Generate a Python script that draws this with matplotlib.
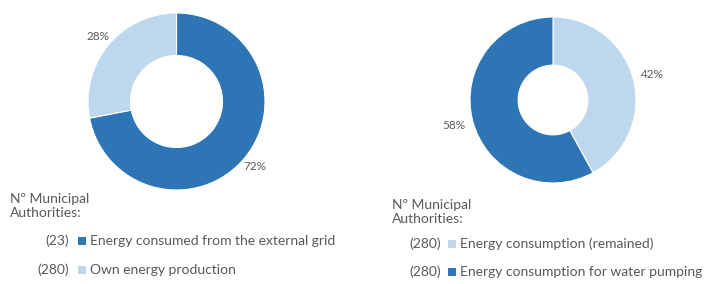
import matplotlib
matplotlib.use("Agg")
import matplotlib.pyplot as plt
from matplotlib.patches import Rectangle

# ---- data ----
left_labels = ["Energy consumed from the external grid", "Own energy production"]
left_values = [72, 28]
left_counts = [23, 280]

right_labels = ["Energy consumption (remained)", "Energy consumption for water pumping"]
right_values = [42, 58]
right_counts = [280, 280]

header = "Nº Municipal\nAuthorities:"

DARK = "#2E75B6"
LIGHT = "#BDD7EE"
TXT = "#595959"
FONT = "Lato"

W, H = 721, 284
fig = plt.figure(figsize=(W / 100, H / 100), dpi=100)
fig.patch.set_facecolor("white")


def px_axes(x, y, w, h):
    return fig.add_axes([x / W, 1 - (y + h) / H, w / W, h / H])


def donut(ax, values, colors, width, pctd):
    ax.pie(values, colors=colors, startangle=90, counterclock=False,
           radius=1.0, wedgeprops=dict(width=width, edgecolor="white", linewidth=0.8),
           autopct=lambda p: f"{p:.0f}%", pctdistance=pctd,
           textprops=dict(fontsize=8.5, color=TXT, family=FONT))
    ax.set_xlim(-1, 1)
    ax.set_ylim(-1, 1)
    ax.set_aspect("equal")
    ax.axis("off")


axL = px_axes(88, 13, 177, 177)
donut(axL, left_values, [DARK, LIGHT], 0.48, 1.15)

axR = px_axes(470, 17, 166, 166)
donut(axR, right_values, [LIGHT, DARK], 0.58, 1.23)


def ftext(x, y, s, **kw):
    fig.text(x / W, 1 - y / H, s, fontsize=10, color=TXT, family=FONT,
             va="center", **kw)


def square(x, y, color, size=8):
    fig.patches.append(Rectangle((x / W, 1 - (y + size / 2) / H), size / W, size / H,
                                 transform=fig.transFigure, facecolor=color,
                                 edgecolor="none"))


def legend(x0, y0, counts, labels, colors, gap, sq_x, row_y):
    ftext(x0, y0, header.split("\n")[0])
    ftext(x0, y0 + 14, header.split("\n")[1])
    for c, lab, col, ry in zip(counts, labels, colors, row_y):
        ftext(sq_x - gap, ry, f"({c})", ha="right")
        square(sq_x, ry, col)
        ftext(sq_x + 12, ry, lab)


legend(10, 199, left_counts, left_labels, [DARK, LIGHT], 9, 78, [241, 270])
legend(392, 205, right_counts, right_labels, [LIGHT, DARK], 7, 448, [244, 272])

fig.savefig("out.png", dpi=100, facecolor="white")
